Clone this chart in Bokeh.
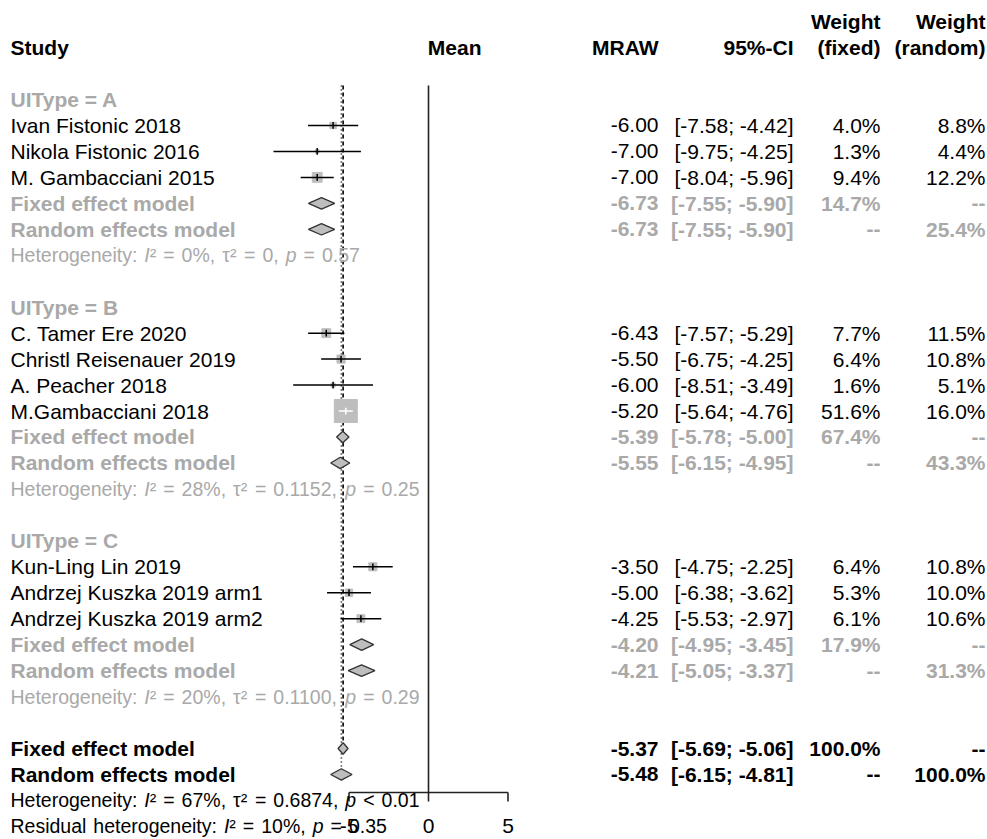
import numpy as np
from bokeh.plotting import figure
from bokeh.models import Range1d, ColumnDataSource
from bokeh.core.properties import value
from bokeh.embed import file_html
from bokeh.resources import INLINE

# ---------------- data ----------------
study_names = ["Ivan Fistonic 2018", "Nikola Fistonic 2016", "M. Gambacciani 2015",
               "C. Tamer Ere 2020", "Christl Reisenauer 2019", "A. Peacher 2018",
               "M.Gambacciani 2018", "Kun-Ling Lin 2019", "Andrzej Kuszka 2019 arm1",
               "Andrzej Kuszka 2019 arm2"]
study_group = ["A", "A", "A", "B", "B", "B", "B", "C", "C", "C"]
study_mean = [-6.00, -7.00, -7.00, -6.43, -5.50, -6.00, -5.20, -3.50, -5.00, -4.25]
study_lower = [-7.58, -9.75, -8.04, -7.57, -6.75, -8.51, -5.64, -4.75, -6.38, -5.53]
study_upper = [-4.42, -4.25, -5.96, -5.29, -4.25, -3.49, -4.76, -2.25, -3.62, -2.97]
weight_fixed = [4.0, 1.3, 9.4, 7.7, 6.4, 1.6, 51.6, 6.4, 5.3, 6.1]
weight_random = [8.8, 4.4, 12.2, 11.5, 10.8, 5.1, 16.0, 10.8, 10.0, 10.6]

groups = ["A", "B", "C"]
grp_fixed_mean = [-6.73, -5.39, -4.20]
grp_fixed_lower = [-7.55, -5.78, -4.95]
grp_fixed_upper = [-5.90, -5.00, -3.45]
grp_fixed_weight = [14.7, 67.4, 17.9]
grp_random_mean = [-6.73, -5.55, -4.21]
grp_random_lower = [-7.55, -6.15, -5.05]
grp_random_upper = [-5.90, -4.95, -3.37]
grp_random_weight = [25.4, 43.3, 31.3]
grp_i2 = ["0%", "28%", "20%"]
grp_tau2 = ["0", "0.1152", "0.1100"]
grp_p = ["= 0.57", "= 0.25", "= 0.29"]

overall_fixed = [-5.37, -5.69, -5.06]     # mean, lower, upper
overall_random = [-5.48, -6.15, -4.81]
overall_i2, overall_tau2, overall_p = "67%", "0.6874", "< 0.01"
resid_i2, resid_p = "10%", "= 0.35"
axis_ticks = [-5, 0, 5]

# ---------------- styling ----------------
W, H = 987, 839
FONT = "Liberation Sans"
FS = 21          # table text
HFS = 19.5       # heterogeneity statistics
GAP = 7          # word gap in the heterogeneity lines
GREY = "#A9A9A9"
SQUARE = "#BEBEBE"
PX_PER_UNIT = 15.9
ZERO_PX = 428
ROW0_PX, ROW_H = 99, 25.96

X_NAME, X_MEAN, X_CI, X_WF, X_WR, X_HDR_MEAN = 10, 658, 793, 880, 985, 481

def px_to_x(px):
    return (px - ZERO_PX) / PX_PER_UNIT

def px_to_row(py):
    return 1 + (py - ROW0_PX) / ROW_H

p = figure(width=W, height=H, output_backend="svg", toolbar_location=None,
           x_range=Range1d(px_to_x(0), px_to_x(W)),
           y_range=Range1d(px_to_row(H), px_to_row(0)),
           x_axis_type=None, y_axis_type=None, min_border=0)
p.extra_x_ranges = {"px": Range1d(0, W)}
p.grid.visible = False
p.outline_line_color = None
p.background_fill_color = "white"
p.border_fill_color = "white"

# approximate advance widths (per 1000 em) for Liberation Sans regular
CW = {' ': 278, '%': 889, ',': 278, '-': 333, '.': 278, ':': 278, '=': 584, '<': 584,
      'H': 722, 'R': 722, 'I': 278, 'a': 556, 'd': 556, 'e': 556, 'g': 556, 'h': 556,
      'i': 222, 'l': 222, 'n': 556, 'o': 556, 'p': 556, 'r': 333, 's': 500, 't': 278,
      'u': 556, 'y': 500, '\u03c4': 430, '\u00b2': 333}
for d in "0123456789":
    CW[d] = 556

def tw(s, fs):
    return sum(CW.get(c, 556) for c in s) / 1000.0 * fs

texts = []  # (x_px, row, text, align, style, color, size)

def add(x, row, txt, align="left", style="normal", color="black", fs=FS):
    texts.append((x, row, txt, align, style, color, fs))

def add_stat(x, row, tokens, color):
    # tokens laid out left to right; None marks a word gap
    for tok in tokens:
        if tok is None:
            x += GAP
            continue
        txt, style = tok
        add(x, row, txt, "left", style, color, HFS)
        x += tw(txt, HFS)

def het_tokens(i2, tau2, p_txt):
    op, val = p_txt.split(" ")
    return [("Heterogeneity:", "normal"), None, ("I", "italic"), ("\u00b2", "normal"), None,
            ("=", "normal"), None, (i2 + ",", "normal"), None, ("\u03c4\u00b2", "normal"), None,
            ("=", "normal"), None, (tau2 + ",", "normal"), None, ("p", "italic"), None,
            (op, "normal"), None, (val, "normal")]

def fmt(v):
    return "%.2f" % v

def fmt_ci(lo, hi):
    return "[%s; %s]" % (fmt(lo), fmt(hi))

# header
add(X_NAME, -1, "Study", style="bold")
add(X_HDR_MEAN, -1, "Mean", "right", "bold")
add(X_MEAN, -1, "MRAW", "right", "bold")
add(X_CI, -1, "95%-CI", "right", "bold")
add(X_WF, -2, "Weight", "right", "bold")
add(X_WR, -2, "Weight", "right", "bold")
add(X_WF, -1, "(fixed)", "right", "bold")
add(X_WR, -1, "(random)", "right", "bold")

st_rows, diamonds = [], []  # diamonds: (mean, lo, hi, row)
row = 1
for g_i, g in enumerate(groups):
    add(X_NAME, row, "UIType = %s" % g, style="bold", color=GREY)
    row += 1
    for i, sg in enumerate(study_group):
        if sg != g:
            continue
        st_rows.append(row)
        add(X_NAME, row, study_names[i])
        add(X_MEAN, row, fmt(study_mean[i]), "right")
        add(X_CI, row, fmt_ci(study_lower[i], study_upper[i]), "right")
        add(X_WF, row, "%.1f%%" % weight_fixed[i], "right")
        add(X_WR, row, "%.1f%%" % weight_random[i], "right")
        row += 1
    # subgroup fixed effect
    add(X_NAME, row, "Fixed effect model", style="bold", color=GREY)
    add(X_MEAN, row, fmt(grp_fixed_mean[g_i]), "right", "bold", GREY)
    add(X_CI, row, fmt_ci(grp_fixed_lower[g_i], grp_fixed_upper[g_i]), "right", "bold", GREY)
    add(X_WF, row, "%.1f%%" % grp_fixed_weight[g_i], "right", "bold", GREY)
    add(X_WR, row, "--", "right", "bold", GREY)
    diamonds.append((grp_fixed_mean[g_i], grp_fixed_lower[g_i], grp_fixed_upper[g_i], row))
    row += 1
    # subgroup random effects
    add(X_NAME, row, "Random effects model", style="bold", color=GREY)
    add(X_MEAN, row, fmt(grp_random_mean[g_i]), "right", "bold", GREY)
    add(X_CI, row, fmt_ci(grp_random_lower[g_i], grp_random_upper[g_i]), "right", "bold", GREY)
    add(X_WF, row, "--", "right", "bold", GREY)
    add(X_WR, row, "%.1f%%" % grp_random_weight[g_i], "right", "bold", GREY)
    diamonds.append((grp_random_mean[g_i], grp_random_lower[g_i], grp_random_upper[g_i], row))
    row += 1
    add_stat(X_NAME, row, het_tokens(grp_i2[g_i], grp_tau2[g_i], grp_p[g_i]), GREY)
    row += 2

# overall models
fixed_row = row
add(X_NAME, row, "Fixed effect model", style="bold")
add(X_MEAN, row, fmt(overall_fixed[0]), "right", "bold")
add(X_CI, row, fmt_ci(overall_fixed[1], overall_fixed[2]), "right", "bold")
add(X_WF, row, "100.0%", "right", "bold")
add(X_WR, row, "--", "right", "bold")
diamonds.append((overall_fixed[0], overall_fixed[1], overall_fixed[2], row))
row += 1
random_row = row
add(X_NAME, row, "Random effects model", style="bold")
add(X_MEAN, row, fmt(overall_random[0]), "right", "bold")
add(X_CI, row, fmt_ci(overall_random[1], overall_random[2]), "right", "bold")
add(X_WF, row, "--", "right", "bold")
add(X_WR, row, "100.0%", "right", "bold")
diamonds.append((overall_random[0], overall_random[1], overall_random[2], row))
row += 1
add_stat(X_NAME, row, het_tokens(overall_i2, overall_tau2, overall_p), "black")
row += 1
label_row = row
r_op, r_val = resid_p.split(" ")
add_stat(X_NAME, row, [("Residual", "normal"), None, ("heterogeneity:", "normal"), None,
                       ("I", "italic"), ("\u00b2", "normal"), None, ("=", "normal"), None,
                       (resid_i2 + ",", "normal"), None, ("p", "italic"), None,
                       (r_op, "normal"), None, (r_val, "normal")], "black")

# ---------------- reference lines ----------------
top_row = px_to_row(85)
axis_row = px_to_row(792)
tick_end = px_to_row(801)
DH = 0.22   # diamond half-height (rows)

p.segment(x0=[0], x1=[0], y0=[top_row], y1=[axis_row], line_color="#222222", line_width=1.6)
p.segment(x0=[overall_fixed[0]], x1=[overall_fixed[0]], y0=[top_row], y1=[fixed_row - DH],
          line_color="black", line_width=1.6, line_dash="4 3")
p.segment(x0=[overall_random[0]], x1=[overall_random[0]], y0=[top_row], y1=[random_row - DH],
          line_color="black", line_width=1.6, line_dash="1 3")

# axis
p.segment(x0=[min(axis_ticks)], x1=[max(axis_ticks)], y0=[axis_row], y1=[axis_row],
          line_color="#222222", line_width=1.6)
p.segment(x0=axis_ticks, x1=axis_ticks, y0=[axis_row] * len(axis_ticks),
          y1=[tick_end] * len(axis_ticks), line_color="#222222", line_width=1.6)
p.text(x=axis_ticks, y=[label_row] * len(axis_ticks), text=[str(t) for t in axis_ticks],
       text_align="center", text_baseline="middle", text_font=value(FONT),
       text_font_size="%dpx" % FS, text_color="black")

# ---------------- study markers ----------------
wf = np.array(weight_fixed)
sizes = 23 * np.sqrt(wf / wf.max())
lo, hi = np.array(study_lower), np.array(study_upper)
inside = (hi - lo) * PX_PER_UNIT < sizes
line_cols = ["white" if f else "black" for f in inside]

p.scatter(x=study_mean, y=st_rows, size=sizes, marker="square",
          fill_color=SQUARE, line_color=SQUARE)
p.segment(x0=study_lower, x1=study_upper, y0=st_rows, y1=st_rows,
          line_color=line_cols, line_width=1.5)
p.segment(x0=study_mean, x1=study_mean, y0=[r - 0.13 for r in st_rows],
          y1=[r + 0.13 for r in st_rows], line_color=line_cols, line_width=1.5)

# ---------------- diamonds ----------------
xs = [[lo_, m, hi_, m] for (m, lo_, hi_, r) in diamonds]
ys = [[r, r - DH, r, r + DH] for (m, lo_, hi_, r) in diamonds]
p.patches(xs=xs, ys=ys, fill_color=SQUARE, line_color="#333333", line_width=1.3)

# ---------------- texts ----------------
keys = {}
for t in texts:
    keys.setdefault((t[3], t[4], t[5], t[6]), []).append(t)
for (align, style, color, fs), items in keys.items():
    src = ColumnDataSource(dict(x=[t[0] for t in items], y=[t[1] for t in items],
                                text=[t[2] for t in items]))
    p.text(x="x", y="y", text="text", source=src, x_range_name="px",
           text_align=align, text_baseline="middle", text_font=value(FONT),
           text_font_size="%gpx" % fs, text_font_style=style, text_color=color)

open("out.html", "w").write(file_html(p, INLINE))
